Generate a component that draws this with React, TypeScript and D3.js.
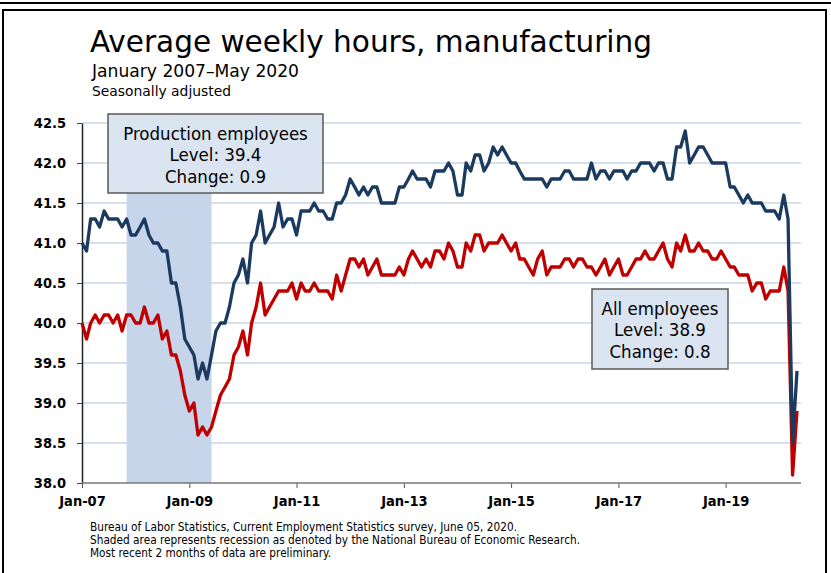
import * as d3 from "d3";
import { useEffect, useRef } from "react";

const W = 831;
const H = 573;

// Monthly series, January 2007 through May 2020
const firstMonth = new Date(2007, 0, 1);

const production = [
  41.0, 40.9, 41.3, 41.3, 41.2, 41.4, 41.3, 41.3, 41.3, 41.2,
  41.3, 41.1, 41.1, 41.2, 41.3, 41.1, 41.0, 41.0, 40.9, 40.9,
  40.5, 40.5, 40.2, 39.8, 39.7, 39.6, 39.3, 39.5, 39.3, 39.6,
  39.9, 40.0, 40.0, 40.2, 40.5, 40.6, 40.8, 40.5, 41.0, 41.1,
  41.4, 41.0, 41.1, 41.2, 41.5, 41.2, 41.3, 41.3, 41.1, 41.4,
  41.4, 41.4, 41.5, 41.4, 41.4, 41.3, 41.3, 41.5, 41.5, 41.6,
  41.8, 41.7, 41.6, 41.7, 41.6, 41.7, 41.7, 41.5, 41.5, 41.5,
  41.5, 41.7, 41.7, 41.8, 41.9, 41.8, 41.8, 41.8, 41.7, 41.9,
  41.9, 41.9, 42.0, 41.9, 41.6, 41.6, 42.0, 41.9, 42.1, 42.1,
  41.9, 42.0, 42.2, 42.1, 42.2, 42.1, 42.0, 42.0, 41.9, 41.8,
  41.8, 41.8, 41.8, 41.8, 41.7, 41.8, 41.8, 41.8, 41.9, 41.9,
  41.8, 41.8, 41.8, 41.8, 42.0, 41.8, 41.9, 41.9, 41.8, 41.9,
  41.9, 41.9, 41.8, 41.9, 41.9, 42.0, 42.0, 42.0, 41.9, 42.0,
  42.0, 41.8, 41.8, 42.2, 42.2, 42.4, 42.0, 42.1, 42.2, 42.2,
  42.1, 42.0, 42.0, 42.0, 42.0, 41.7, 41.7, 41.6, 41.5, 41.6,
  41.5, 41.5, 41.5, 41.4, 41.4, 41.4, 41.3, 41.6, 41.3, 38.5,
  39.4,
];

const allEmployees = [
  40.0, 39.8, 40.0, 40.1, 40.0, 40.1, 40.1, 40.0, 40.1, 39.9,
  40.1, 40.1, 40.0, 40.0, 40.2, 40.0, 40.0, 40.1, 39.8, 39.9,
  39.6, 39.6, 39.4, 39.1, 38.9, 39.0, 38.6, 38.7, 38.6, 38.7,
  38.9, 39.1, 39.2, 39.3, 39.6, 39.7, 39.9, 39.6, 40.0, 40.2,
  40.5, 40.1, 40.2, 40.3, 40.4, 40.4, 40.4, 40.5, 40.3, 40.5,
  40.4, 40.4, 40.5, 40.4, 40.4, 40.4, 40.3, 40.6, 40.4, 40.6,
  40.8, 40.8, 40.7, 40.8, 40.6, 40.7, 40.8, 40.6, 40.6, 40.6,
  40.6, 40.7, 40.6, 40.8, 40.9, 40.8, 40.7, 40.8, 40.7, 40.9,
  40.9, 40.8, 41.0, 40.9, 40.7, 40.7, 41.0, 40.9, 41.1, 41.1,
  40.9, 41.0, 41.0, 41.0, 41.1, 41.0, 40.9, 41.0, 40.8, 40.8,
  40.7, 40.6, 40.8, 40.9, 40.6, 40.7, 40.7, 40.7, 40.8, 40.8,
  40.7, 40.8, 40.8, 40.7, 40.7, 40.6, 40.7, 40.8, 40.6, 40.7,
  40.8, 40.6, 40.6, 40.7, 40.8, 40.8, 40.9, 40.8, 40.8, 40.9,
  41.0, 40.8, 40.7, 41.0, 40.9, 41.1, 40.9, 40.9, 41.0, 40.9,
  40.9, 40.8, 40.8, 40.9, 40.8, 40.7, 40.7, 40.6, 40.6, 40.6,
  40.4, 40.5, 40.5, 40.3, 40.4, 40.4, 40.4, 40.7, 40.4, 38.1,
  38.9,
];

const yTicks = [38.0, 38.5, 39.0, 39.5, 40.0, 40.5, 41.0, 41.5, 42.0, 42.5];
const xTickYears = [2007, 2009, 2011, 2013, 2015, 2017, 2019];
const recession = [new Date(2007, 10, 1), new Date(2009, 5, 1)];

const productionLabel = ["Production employees", "Level: 39.4", "Change: 0.9"];
const allLabel = ["All employees", "Level: 38.9", "Change: 0.8"];

const footnotes = [
  "Bureau of Labor Statistics, Current Employment Statistics survey, June 05, 2020.",
  "Shaded area represents recession as denoted by the National Bureau of Economic Research.",
  "Most recent 2 months of data are preliminary.",
];
const footnoteWidths = [427, 490, 241];

const FONT = "'DejaVu Sans Condensed', 'DejaVu Sans', sans-serif";

const App = () => {
  const ref = useRef<SVGSVGElement>(null);

  useEffect(() => {
    const svg = d3.select(ref.current);
    svg.selectAll("*").remove();

    const months = production.map((_, i) => d3.timeMonth.offset(firstMonth, i));

    const x = d3
      .scaleTime()
      .domain([months[0], months[months.length - 1]])
      .range([82, 797]);
    const y = d3.scaleLinear().domain([38, 42.5]).range([483, 123]);

    svg.append("rect").attr("width", W).attr("height", H).attr("fill", "white");

    // frame
    svg.append("line").attr("x1", 0).attr("x2", W).attr("y1", 3).attr("y2", 3)
      .attr("stroke", "#000").attr("stroke-width", 2);
    svg.append("rect").attr("x", 3).attr("y", 10).attr("width", 823).attr("height", H)
      .attr("fill", "none").attr("stroke", "#000").attr("stroke-width", 2);

    // titles
    const title = svg.append("g").attr("font-family", FONT).attr("fill", "#000");
    title.append("text").attr("x", 90).attr("y", 52).attr("font-size", 30)
      .attr("textLength", 562).attr("lengthAdjust", "spacingAndGlyphs")
      .text("Average weekly hours, manufacturing");
    title.append("text").attr("x", 92).attr("y", 77).attr("font-size", 17)
      .attr("textLength", 207).attr("lengthAdjust", "spacingAndGlyphs")
      .text("January 2007\u2013May 2020");
    title.append("text").attr("x", 92).attr("y", 96).attr("font-size", 14)
      .attr("textLength", 139).attr("lengthAdjust", "spacingAndGlyphs")
      .text("Seasonally adjusted");

    // recession shading
    svg.append("rect")
      .attr("x", x(recession[0]))
      .attr("width", x(recession[1]) - x(recession[0]))
      .attr("y", y(42.5))
      .attr("height", y(38) - y(42.5))
      .attr("fill", "#c6d5ea");

    // gridlines
    svg.append("g")
      .selectAll("line")
      .data(yTicks.filter((d) => d > 38))
      .join("line")
      .attr("x1", 82)
      .attr("x2", 801)
      .attr("y1", (d) => y(d))
      .attr("y2", (d) => y(d))
      .attr("stroke", "#c9d5e6")
      .attr("stroke-width", 1.5);

    // axes
    const yAxis = svg.append("g")
      .attr("transform", "translate(82,0)")
      .call(d3.axisLeft(y).tickValues(yTicks).tickSize(5).tickSizeOuter(0).tickPadding(11)
        .tickFormat(d3.format(".1f")));
    yAxis.select(".domain").attr("stroke", "#222").attr("stroke-width", 1.5);
    yAxis.selectAll(".tick line").attr("stroke", "#444");
    yAxis.selectAll("text").attr("font-family", FONT).attr("font-size", 14.5)
      .attr("font-weight", "bold").attr("fill", "#000");

    const xAxis = svg.append("g")
      .attr("transform", "translate(0,483)")
      .call(d3.axisBottom(x).tickValues(xTickYears.map((yr) => new Date(yr, 0, 1)))
        .tickSize(5).tickSizeOuter(0).tickPadding(8)
        .tickFormat((d) => d3.timeFormat("%b-%y")(d as Date)));
    xAxis.select(".domain").remove();
    xAxis.selectAll(".tick line").attr("stroke", "#555");
    xAxis.selectAll("text").attr("font-family", FONT).attr("font-size", 14.5)
      .attr("font-weight", "bold").attr("fill", "#000");
    svg.append("line").attr("x1", 82).attr("x2", 801).attr("y1", 483).attr("y2", 483)
      .attr("stroke", "#777").attr("stroke-width", 1.5);

    // lines
    const line = d3.line<number>()
      .x((_, i) => x(months[i]))
      .y((d) => y(d));
    svg.append("path").datum(allEmployees).attr("d", line)
      .attr("fill", "none").attr("stroke", "#c00000").attr("stroke-width", 3.3)
      .attr("stroke-linejoin", "round");
    svg.append("path").datum(production).attr("d", line)
      .attr("fill", "none").attr("stroke", "#1b3a60").attr("stroke-width", 3.3)
      .attr("stroke-linejoin", "round");

    // label boxes
    const drawBox = (lines: string[], bx: number, by: number, bw: number, bh: number) => {
      const g = svg.append("g");
      g.append("rect").attr("x", bx).attr("y", by).attr("width", bw).attr("height", bh)
        .attr("fill", "#dbe5f1").attr("stroke", "#595959").attr("stroke-width", 1.5);
      g.selectAll("text")
        .data(lines)
        .join("text")
        .attr("x", bx + bw / 2)
        .attr("y", (_, i) => by + 25.5 + i * 21.7)
        .attr("text-anchor", "middle")
        .attr("font-family", FONT)
        .attr("font-size", 18.5)
        .attr("fill", "#000")
        .text((d) => d);
    };
    drawBox(productionLabel, 108, 114, 215, 79);
    drawBox(allLabel, 592, 289, 136, 80);

    // footnotes
    svg.append("g")
      .selectAll("text")
      .data(footnotes)
      .join("text")
      .attr("x", 90)
      .attr("y", (_, i) => 531 + i * 13)
      .attr("font-family", FONT)
      .attr("font-size", 11.5)
      .attr("textLength", (_, i) => footnoteWidths[i])
      .attr("lengthAdjust", "spacingAndGlyphs")
      .attr("fill", "#000")
      .text((d) => d);
  }, []);

  return (
    <svg
      ref={ref}
      width={W}
      height={H}
      style={{ position: "absolute", left: 0, top: 0, display: "block" }}
    />
  );
};

export default App;
